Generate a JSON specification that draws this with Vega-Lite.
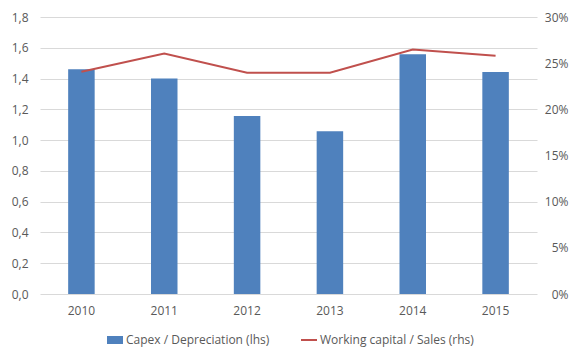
{
  "$schema": "https://vega.github.io/schema/vega-lite/v6.json",
  "autosize": {"type": "none"},
  "width": 497,
  "height": 277,
  "padding": {"left": 40, "top": 17, "right": 47, "bottom": 65},
  "background": "white",
  "data": {"values": [
    {"year": "2010", "capex": 1.46, "wc": 0.2407},
    {"year": "2011", "capex": 1.40, "wc": 0.2604},
    {"year": "2012", "capex": 1.157, "wc": 0.2396},
    {"year": "2013", "capex": 1.057, "wc": 0.2396},
    {"year": "2014", "capex": 1.558, "wc": 0.2648},
    {"year": "2015", "capex": 1.442, "wc": 0.2579}
  ]},
  "encoding": {
    "x": {"field": "year", "type": "nominal", "sort": null,
      "scale": {"paddingInner": 0.68, "paddingOuter": 0.34},
      "axis": {"title": null, "labelAngle": 0, "ticks": false, "domain": false, "labelPadding": 11}}
  },
  "layer": [
    {
      "mark": {"type": "bar"},
      "encoding": {
        "y": {"field": "capex", "type": "quantitative",
          "scale": {"domain": [0, 1.8], "nice": false},
          "axis": {"title": null, "values": [0, 0.2, 0.4, 0.6, 0.8, 1.0, 1.2, 1.4, 1.6, 1.8], "format": ".1f",
            "ticks": false, "domain": false, "grid": true, "gridColor": "#D9D9D9", "gridWidth": 1, "labelPadding": 12}},
        "fill": {"datum": "Capex / Depreciation (lhs)", "type": "nominal",
          "scale": {"range": ["#4F81BD"]},
          "legend": {"title": null, "orient": "none", "legendX": 66, "legendY": 314,
            "symbolType": "M-1,-0.5H1V0.5H-1Z", "symbolSize": 256, "labelOffset": 2}}
      }
    },
    {
      "mark": {"type": "line", "strokeWidth": 2},
      "encoding": {
        "y": {"field": "wc", "type": "quantitative",
          "scale": {"domain": [0, 0.3], "nice": false},
          "axis": {"title": null, "orient": "right", "values": [0, 0.05, 0.1, 0.15, 0.2, 0.25, 0.3], "format": ".0%",
            "ticks": false, "domain": false, "grid": false, "labelAlign": "right", "labelPadding": 31}},
        "stroke": {"datum": "Working capital / Sales (rhs)", "type": "nominal",
          "scale": {"range": ["#C0504D"]},
          "legend": {"title": null, "orient": "none", "legendX": 260, "legendY": 314,
            "symbolType": "stroke", "symbolSize": 256, "symbolStrokeWidth": 2, "labelOffset": 2}}
      }
    }
  ],
  "resolve": {"scale": {"y": "independent", "fill": "independent", "stroke": "independent"}},
  "config": {
    "locale": {"number": {"decimal": ",", "thousands": ".", "grouping": [3], "currency": ["", " €"]}},
    "view": {"stroke": null},
    "font": "Open Sans",
    "axis": {"labelFont": "Open Sans", "labelFontSize": 12, "labelColor": "#595959"},
    "legend": {"labelFont": "Open Sans", "labelFontSize": 12, "labelColor": "#595959"}
  }
}
